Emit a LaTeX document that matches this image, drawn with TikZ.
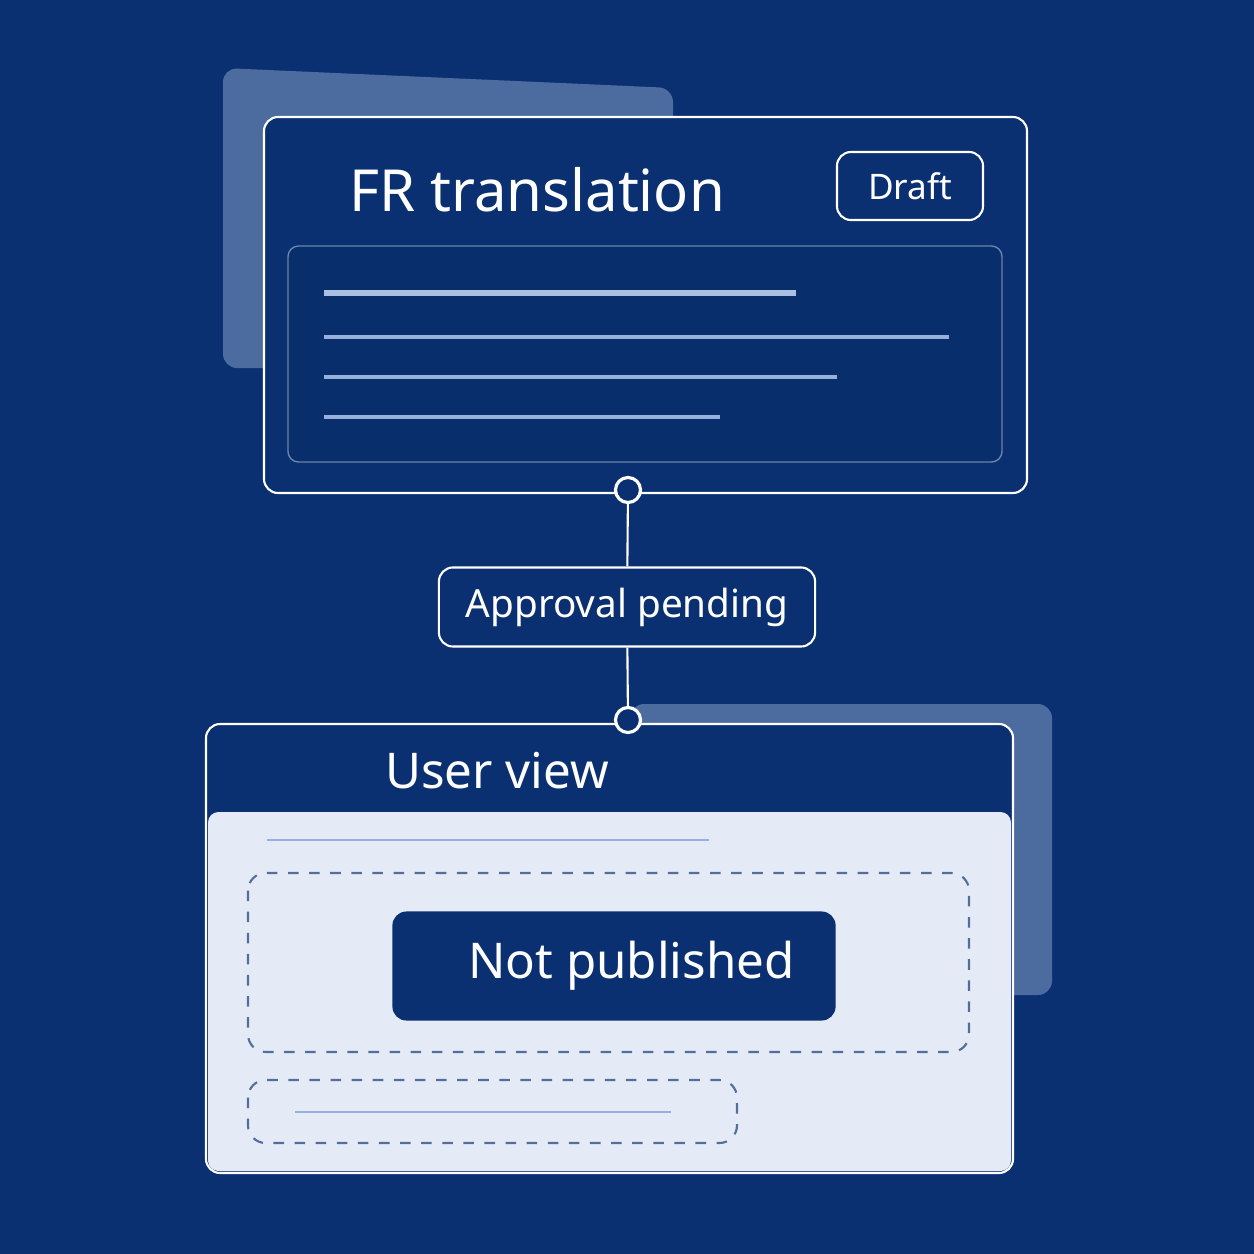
\documentclass[tikz,border=0pt]{standalone}
\usepackage{fontspec}
\setmainfont{Noto Sans}
\usetikzlibrary{positioning}
\definecolor{bgblue}{RGB}{10,48,114}
\definecolor{sheet}{RGB}{76,108,160}
\definecolor{paper}{RGB}{228,235,247}
\definecolor{rule}{RGB}{150,175,220}
\begin{document}
\begin{tikzpicture}[x=0.01cm,y=-0.01cm,
    card/.style={draw=white, line width=0.6pt, rounded corners=4pt, fill=bgblue},
    tag/.style={draw=white, line width=0.6pt, rounded corners=4pt, text=white, inner sep=0pt},
    dot/.style={circle, draw=white, line width=0.9pt, fill=bgblue, minimum size=0.25cm, inner sep=0pt},
    dashbox/.style={draw=bgblue!70!white, dashed, line width=0.6pt, rounded corners=5pt},
    txt/.style={rule, line width=1pt}
]
% background
\fill[bgblue] (0,0) rectangle (1254,1254);

% back sheets
\fill[sheet, rounded corners=4pt] (223,68) -- (673,88) -- (673,368) -- (223,368) -- cycle;
\fill[sheet, rounded corners=4pt] (630,704) rectangle (1052,995);

% translation card
\draw[card] (264,117) rectangle (1027,493);
\node[text=white, font=\fontsize{16.5}{20}\selectfont] (title) at (537,190) {FR translation};
\node[tag, minimum width=1.46cm, minimum height=0.68cm, font=\fontsize{10}{12}\selectfont] (draft) at (910,186) {Draft};
\draw[draw=white!40!bgblue, rounded corners=3pt, fill=bgblue!95!black] (288,246) rectangle (1002,462);
\draw[rule!80!white, line width=1.6pt] (324,293) -- (796,293);
\draw[txt] (324,337) -- (949,337);
\draw[txt] (324,377) -- (837,377);
\draw[txt] (324,417) -- (720,417);

% approval step
\node[dot] (top) at (628,490) {};
\node[tag, minimum width=3.76cm, minimum height=0.79cm, font=\fontsize{11}{13}\selectfont] (approval) at (627,607) {Approval pending};

% user view card
\draw[card] (206,724) rectangle (1013,1173);
\fill[paper, rounded corners=3pt] (208,812) -- (1011,812) -- (1011,1171) -- (208,1171) -- cycle;
\node[text=white, font=\fontsize{14}{17}\selectfont] (view) at (497,771) {User view};
\draw[txt, line width=0.8pt] (267,840) -- (709,840);
\draw[dashbox] (248,873) rectangle (969,1052);
\node[fill=bgblue, rounded corners=4pt, minimum width=4.43cm, minimum height=1.09cm, text=white, font=\fontsize{14}{17}\selectfont] (status) at (614,966) {\hspace*{0.35cm}Not published};
\draw[dashbox] (248,1080) rectangle (737,1143);
\draw[txt, line width=0.8pt] (295,1112) -- (671,1112);
\node[dot] (bottom) at (628,720) {};

% connectors
\draw[white, line width=0.6pt] (top) -- (approval);
\draw[white, line width=0.6pt] (approval) -- (bottom);
\end{tikzpicture}
\end{document}
